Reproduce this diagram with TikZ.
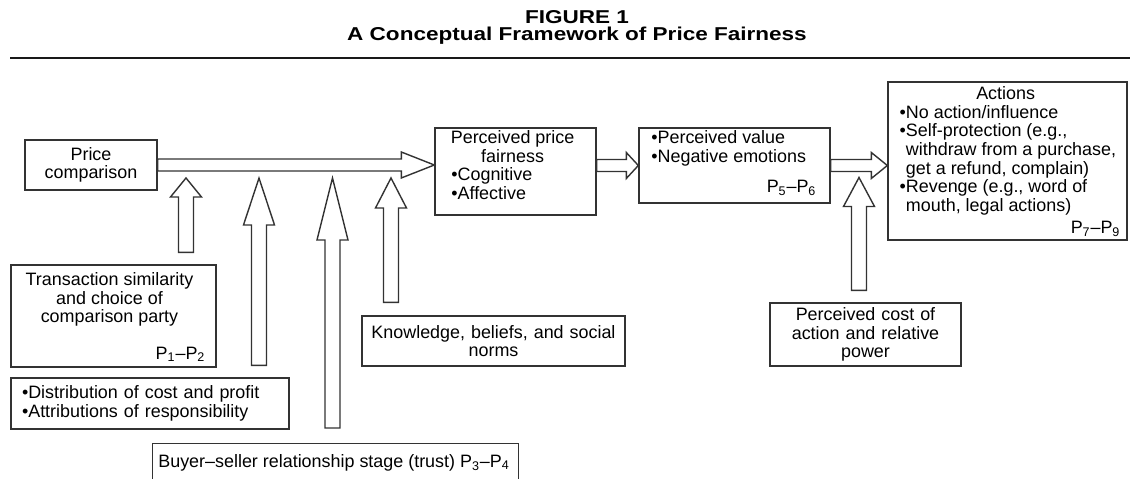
\documentclass[tikz,border=0pt]{standalone}
\usepackage{fontspec}
\setmainfont{Liberation Sans}
\newfontfamily\headfont[FakeStretch=1.21]{Liberation Sans}
\usetikzlibrary{positioning, calc}

% hollow block arrows: pointing right, pointing up
\newcommand{\rightblock}[3]{%
  \draw[hollow] let \p1=(#1), \p2=(#2) in
    (\x1,\y1+0.12cm) -- (\x2-#3,\y1+0.12cm) -- (\x2-#3,\y1+0.26cm) -- (\x2,\y1)
    -- (\x2-#3,\y1-0.26cm) -- (\x2-#3,\y1-0.12cm) -- (\x1,\y1-0.12cm) -- cycle;}
\newcommand{\upblock}[3]{%
  \draw[hollow] let \p1=(#1), \p2=(#2) in
    (\x1-0.15cm,\y1) -- (\x1-0.15cm,\y2-#3) -- (\x1-0.31cm,\y2-#3) -- (\x1,\y2)
    -- (\x1+0.31cm,\y2-#3) -- (\x1+0.15cm,\y2-#3) -- (\x1+0.15cm,\y1) -- cycle;}

\begin{document}
\begin{tikzpicture}[x=0.02cm, y=-0.02cm, font=\fontsize{10.2}{10.6}\selectfont]
            \tikzstyle{box} = [draw=black!80, line width=0.8pt, rectangle, inner sep=0pt]
            \tikzstyle{hollow} = [draw=black!80, line width=0.8pt, fill=white]
            \tikzstyle{words} = [inner sep=0pt]
            \tikzstyle{plabel} = [inner sep=0pt, anchor=base east]
            \tikzstyle{head} = [inner sep=0pt, anchor=base, font=\headfont\bfseries\fontsize{10.6}{12}\selectfont]

            \clip (0,0) rectangle (1130,479);

            \node[head] (fig) at (577,24) {FIGURE 1};
            \node[head] (title) at (577,40.7) {A Conceptual Framework of Price Fairness};
            \draw[line width=1.4pt, black!90] (10,58) -- (1130,58);

            \node[box, minimum width=2.64cm, minimum height=1cm, align=center] (pc) at (91,165) {Price\\comparison};

            \node[box, minimum width=3.22cm, minimum height=1.74cm] (ppf) at (515.5,171.5) {};
            \node[words, align=left, below right=0.06cm and 0.334cm of ppf.north west] (ppftext)
                {\makebox[2.45cm]{Perceived price}\\\makebox[2.45cm]{fairness}\\•Cognitive\\•Affective};

            \node[box, minimum width=3.82cm, minimum height=1.5cm] (pv) at (734.5,165.5) {};
            \node[words, align=left, below right=0.06cm and 0.254cm of pv.north west] (pvtext)
                {•Perceived value\\•Negative emotions};
            \node[plabel] (p56) at ($(pv.south east)+(-14,-11)$) {P\textsubscript{5}–P\textsubscript{6}};

            \node[box, minimum width=4.78cm, minimum height=3.16cm] (act) at (1007.5,161) {};
            \node[words, align=left, below right=0.1cm and 0.24cm of act.north west] (acttext)
                {\makebox[4.24cm]{Actions}\\•No action/influence\\•Self-protection (e.g.,\\\phantom{•}withdraw from a purchase,\\\phantom{•}get a refund, complain)\\•Revenge (e.g., word of\\\phantom{•}mouth, legal actions)};
            \node[plabel] (p79) at ($(act.south east)+(-7,-7)$) {P\textsubscript{7}–P\textsubscript{9}};

            \node[box, minimum width=4.1cm, minimum height=2.04cm] (trans) at (113.5,316) {};
            \node[words, align=center, below=0.16cm of trans.north, xshift=-0.08cm] (transtext)
                {Transaction similarity\\and choice of\\comparison party};
            \node[plabel] (p12) at ($(trans.south east)+(-11,-8.4)$) {P\textsubscript{1}–P\textsubscript{2}};

            \node[box, minimum width=5.56cm, minimum height=1.02cm, text width=5.12cm, inner xsep=0.22cm, align=left] (dist) at (150,403.5)
                {•Distribution of cost and profit\\•Attributions of responsibility};

            \node[box, minimum width=5.26cm, minimum height=1cm, text width=5cm, align=center] (know) at (493.5,341)
                {Knowledge, beliefs, and social\\norms};

            \node[box, minimum width=3.82cm, minimum height=1.26cm, text width=3.5cm, align=center] (cost) at (865.5,334.5)
                {Perceived cost of\\action and relative\\power};

            \node[box, anchor=north west, minimum width=7.32cm, minimum height=0.76cm] (buyer) at (152,443) {};
            \node[words, right=0.12cm of buyer.west] (buyertext)
                {Buyer–seller relationship stage (trust) P\textsubscript{3}–P\textsubscript{4}};

            \rightblock{pc.east}{pc.east -| ppf.west}{0.66cm}
            \rightblock{pv.west -| ppf.east}{pv.west}{0.24cm}
            \rightblock{pv.east}{pv.east -| act.west}{0.32cm}

            \coordinate (tip1) at (186,178);
            \coordinate (tip2) at (259,178);
            \coordinate (tip3) at (332.5,178);
            \coordinate (tip4) at (391,178);
            \coordinate (tip5) at (859,177.5);
            \coordinate (tail1) at ($(tip1 |- trans.north)+(0,-12)$);
            \coordinate (tail2) at ($(tip2 |- dist.north)+(0,-12)$);
            \coordinate (tail3) at ($(tip3 |- buyer.north)+(0,-15)$);
            \coordinate (tail4) at ($(tip4 |- know.north)+(0,-13)$);
            \coordinate (tail5) at ($(tip5 |- cost.north)+(0,-12)$);

            \upblock{tail1}{tip1}{0.38cm}
            \upblock{tail2}{tip2}{0.94cm}
            \upblock{tail3}{tip3}{1.24cm}
            \upblock{tail4}{tip4}{0.6cm}
            \upblock{tail5}{tip5}{0.58cm}
        \end{tikzpicture}
\end{document}
